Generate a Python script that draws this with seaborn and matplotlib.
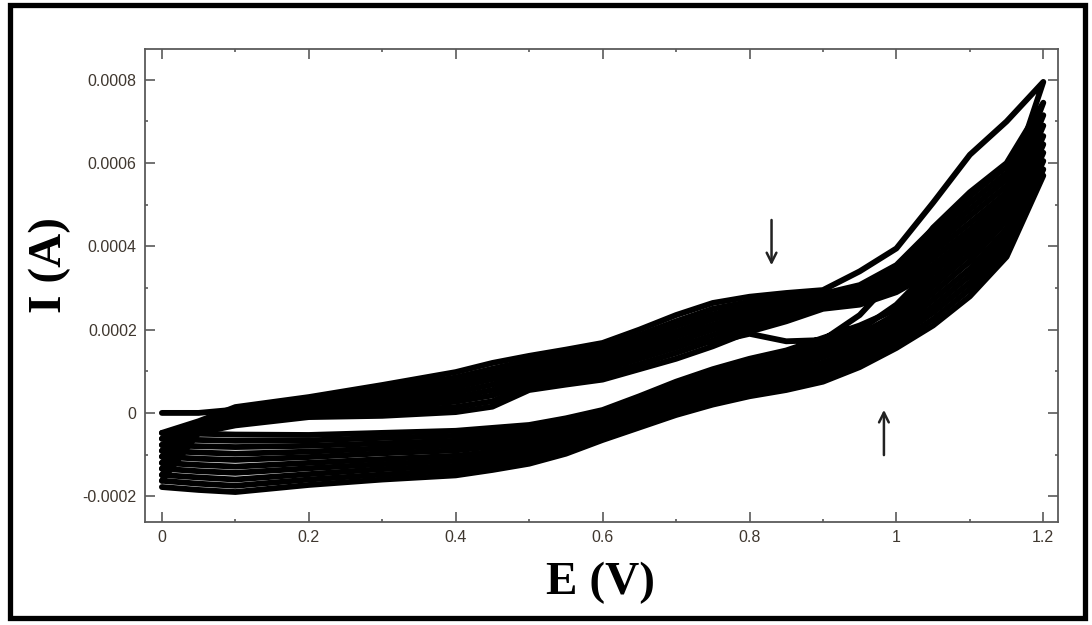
import matplotlib
matplotlib.use('Agg')
import matplotlib.pyplot as plt
import pandas as pd
import seaborn as sns
from matplotlib.patches import Rectangle
from matplotlib.ticker import FixedLocator, FixedFormatter, MultipleLocator

# Potential grid (V)
E_grid = [0.0, 0.05, 0.1, 0.2, 0.3, 0.4, 0.45, 0.5, 0.55, 0.6, 0.65, 0.7, 0.75, 0.8,
          0.85, 0.9, 0.95, 1.0, 1.05, 1.1, 1.15, 1.2]

# Forward (anodic) scans, current in units of 1e-4 A
fwd_c0 = [0.0, 0.0, 0.08, 0.3, 0.55, 0.8, 0.92, 1.05, 1.18, 1.3, 1.5, 1.7, 1.7, 1.9, 1.72, 1.75, 2.35, 3.3, 4.45, 5.3, 6.0, 7.45]
fwd_c1 = [-0.48, -0.2, 0.14, 0.38, 0.67, 0.98, 1.2, 1.37, 1.52, 1.68, 2.0, 2.35, 2.64, 2.79, 2.88, 2.95, 3.4, 3.95, 5.05, 6.2, 7.0, 7.95]
fwd_c2 = [-0.62, -0.23, 0.08, 0.31, 0.57, 0.85, 1.06, 1.26, 1.41, 1.56, 1.87, 2.2, 2.5, 2.67, 2.78, 2.86, 3.07, 3.55, 4.43, 5.21, 5.92, 7.15]
fwd_c3 = [-0.77, -0.26, 0.03, 0.26, 0.48, 0.73, 0.94, 1.16, 1.31, 1.45, 1.75, 2.08, 2.37, 2.57, 2.7, 2.81, 3.0, 3.46, 4.29, 5.05, 5.76, 6.9]
fwd_c4 = [-0.91, -0.3, -0.03, 0.2, 0.39, 0.62, 0.81, 1.06, 1.21, 1.35, 1.64, 1.95, 2.25, 2.47, 2.62, 2.76, 2.94, 3.37, 4.14, 4.89, 5.61, 6.65]
fwd_c5 = [-1.05, -0.33, -0.08, 0.14, 0.3, 0.5, 0.68, 0.96, 1.1, 1.24, 1.53, 1.83, 2.12, 2.37, 2.54, 2.71, 2.88, 3.28, 4.0, 4.73, 5.45, 6.45]
fwd_c6 = [-1.2, -0.37, -0.13, 0.08, 0.21, 0.38, 0.55, 0.86, 0.99, 1.13, 1.41, 1.7, 2.0, 2.27, 2.46, 2.66, 2.81, 3.18, 3.86, 4.56, 5.29, 6.25]
fwd_c7 = [-1.34, -0.4, -0.19, 0.02, 0.12, 0.27, 0.42, 0.76, 0.89, 1.03, 1.3, 1.57, 1.87, 2.17, 2.38, 2.61, 2.74, 3.1, 3.71, 4.4, 5.14, 6.05]
fwd_c8 = [-1.49, -0.44, -0.24, -0.04, 0.03, 0.14, 0.28, 0.66, 0.78, 0.91, 1.17, 1.44, 1.74, 2.06, 2.29, 2.55, 2.67, 3.0, 3.56, 4.23, 4.97, 5.85]
fwd_c9 = [-1.63, -0.48, -0.3, -0.1, -0.07, 0.02, 0.15, 0.55, 0.68, 0.8, 1.05, 1.3, 1.6, 1.95, 2.2, 2.5, 2.6, 2.9, 3.4, 4.05, 4.8, 5.7]

# Reverse (cathodic) scans on the same potential grid, current in 1e-4 A
rev_c0 = [-0.48, -0.5, -0.52, -0.53, -0.48, -0.43, -0.36, -0.29, -0.13, 0.07, 0.4, 0.75, 1.05, 1.3, 1.5, 1.8, 2.1, 2.49, 3.35, 4.14, 5.13, 7.45]
rev_c1 = [-0.62, -0.65, -0.67, -0.66, -0.6, -0.55, -0.47, -0.39, -0.22, -0.01, 0.32, 0.66, 0.96, 1.2, 1.4, 1.68, 1.99, 2.6, 3.5, 4.3, 5.3, 7.95]
rev_c2 = [-0.77, -0.8, -0.82, -0.79, -0.73, -0.67, -0.58, -0.5, -0.32, -0.09, 0.24, 0.57, 0.86, 1.1, 1.29, 1.57, 1.88, 2.37, 3.19, 3.97, 4.96, 7.15]
rev_c3 = [-0.91, -0.95, -0.98, -0.93, -0.85, -0.78, -0.7, -0.6, -0.41, -0.17, 0.15, 0.49, 0.77, 1.0, 1.19, 1.45, 1.77, 2.26, 3.04, 3.81, 4.79, 6.9]
rev_c4 = [-1.05, -1.1, -1.13, -1.06, -0.97, -0.9, -0.81, -0.7, -0.51, -0.25, 0.07, 0.4, 0.68, 0.9, 1.08, 1.34, 1.66, 2.14, 2.88, 3.64, 4.62, 6.65]
rev_c5 = [-1.2, -1.25, -1.29, -1.2, -1.11, -1.03, -0.93, -0.81, -0.6, -0.33, -0.02, 0.3, 0.57, 0.8, 0.97, 1.21, 1.54, 2.02, 2.72, 3.46, 4.43, 6.45]
rev_c6 = [-1.34, -1.4, -1.44, -1.33, -1.23, -1.15, -1.04, -0.91, -0.69, -0.41, -0.1, 0.21, 0.48, 0.7, 0.86, 1.1, 1.43, 1.9, 2.56, 3.3, 4.26, 6.25]
rev_c7 = [-1.49, -1.55, -1.6, -1.47, -1.35, -1.27, -1.15, -1.02, -0.79, -0.49, -0.19, 0.13, 0.39, 0.6, 0.76, 0.98, 1.32, 1.79, 2.41, 3.13, 4.09, 6.05]
rev_c8 = [-1.63, -1.7, -1.75, -1.6, -1.48, -1.38, -1.26, -1.12, -0.88, -0.57, -0.27, 0.04, 0.29, 0.5, 0.65, 0.87, 1.21, 1.67, 2.25, 2.97, 3.92, 5.85]
rev_c9 = [-1.78, -1.85, -1.9, -1.73, -1.6, -1.5, -1.37, -1.22, -0.98, -0.65, -0.35, -0.05, 0.2, 0.4, 0.55, 0.75, 1.1, 1.56, 2.1, 2.8, 3.75, 5.7]

forward = [fwd_c0, fwd_c1, fwd_c2, fwd_c3, fwd_c4, fwd_c5, fwd_c6, fwd_c7, fwd_c8, fwd_c9]
reverse = [rev_c0, rev_c1, rev_c2, rev_c3, rev_c4, rev_c5, rev_c6, rev_c7, rev_c8, rev_c9]

x_ticks = [0, 0.2, 0.4, 0.6, 0.8, 1.0, 1.2]
x_labels = ['0', '0.2', '0.4', '0.6', '0.8', '1', '1.2']
y_ticks = [-0.0002, 0.0, 0.0002, 0.0004, 0.0006, 0.0008]
y_labels = ['-0.0002', '0', '0.0002', '0.0004', '0.0006', '0.0008']

rows = []
for k, (f, r) in enumerate(zip(forward, reverse)):
    path_E = E_grid + E_grid[::-1][1:]
    path_I = f + r[::-1][1:]
    for i, (e, cur) in enumerate(zip(path_E, path_I)):
        rows.append({'cycle': k, 'order': i, 'E': e, 'I': cur * 1e-4})
df = pd.DataFrame(rows)

sns.set_style('ticks')
plt.rcParams['font.family'] = ['Liberation Sans', 'DejaVu Sans']

fig = plt.figure(figsize=(10.92, 6.25), dpi=100)
ax = fig.add_axes([145 / 1092, 1 - 522 / 625, (1058 - 145) / 1092, (522 - 49) / 625])

sns.lineplot(data=df, x='E', y='I', units='cycle', estimator=None, sort=False,
             color='black', linewidth=4.2, legend=False, ax=ax,
             solid_joinstyle='round', solid_capstyle='round')

ax.set_xlim(-0.023, 1.220)
ax.set_ylim(-0.000262, 0.000874)

spine_col = '#5a5a5a'
for s in ax.spines.values():
    s.set_color(spine_col)
    s.set_linewidth(1.3)
    s.set_visible(True)

ax.xaxis.set_major_locator(FixedLocator(x_ticks))
ax.xaxis.set_major_formatter(FixedFormatter(x_labels))
ax.yaxis.set_major_locator(FixedLocator(y_ticks))
ax.yaxis.set_major_formatter(FixedFormatter(y_labels))
ax.xaxis.set_minor_locator(MultipleLocator(0.1))
ax.yaxis.set_minor_locator(MultipleLocator(0.0001))
ax.tick_params(which='both', direction='in', top=True, right=True,
               color=spine_col, width=1.2)
ax.tick_params(which='major', length=7, labelsize=11.5, labelcolor='#3f372f', pad=6)
ax.tick_params(which='minor', length=2.5)
ax.set_xlabel('')
ax.set_ylabel('')

fig.text(601 / 1092, 1 - 583 / 625, 'E (V)', ha='center', va='center',
         fontsize=34, fontweight='bold', family='Liberation Serif', color='black')
fig.text(50 / 1092, 1 - 265 / 625, 'I (A)', ha='center', va='center', rotation=90,
         fontsize=34, fontweight='bold', family='Liberation Serif', color='black')

arrow_kw = dict(arrowstyle='->,head_length=0.7,head_width=0.35', lw=1.8, color='#222222')
ax.annotate('', xy=(0.83, 0.000348), xytext=(0.83, 0.000470), arrowprops=arrow_kw)
ax.annotate('', xy=(0.983, 0.000014), xytext=(0.983, -0.000108), arrowprops=arrow_kw)

fig.patches.append(Rectangle((9.5 / 1092, 1 - 618 / 625), (1085 - 9.5) / 1092, (618 - 4.5) / 625,
                             transform=fig.transFigure, fill=False, edgecolor='black',
                             linewidth=3.8, zorder=10))

fig.savefig('out.png', dpi=100, facecolor='white')
